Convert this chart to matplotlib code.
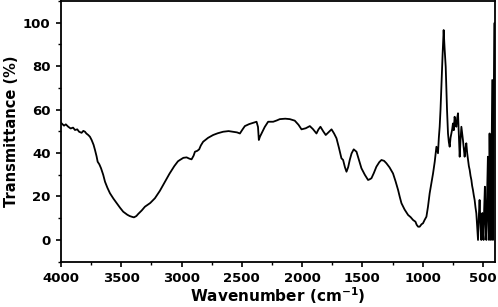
import matplotlib
matplotlib.use("Agg")
import matplotlib.pyplot as plt
from matplotlib.ticker import MultipleLocator

plt.rcParams['font.family'] = ['DejaVu Sans']
plt.rcParams['font.weight'] = 'bold'
plt.rcParams['mathtext.fontset'] = 'dejavusans'
plt.rcParams['mathtext.default'] = 'bf'

# FTIR spectrum
wavenumber = [
    4000, 3994, 3975, 3960, 3940, 3920, 3900, 3884, 3865, 3850, 3829, 3815, 3801, 3790,
    3774, 3760, 3746, 3730, 3718, 3705, 3696, 3682, 3668, 3650, 3635, 3615, 3594,
    3565, 3538, 3510, 3484, 3450, 3430, 3414, 3395, 3375, 3359, 3330, 3304, 3260,
    3221, 3180, 3138, 3100, 3060, 3030, 3014, 2985, 2958, 2935, 2917, 2900, 2889,
    2870, 2854, 2840, 2821, 2780, 2738, 2700, 2655, 2610, 2572, 2540, 2516, 2495,
    2475, 2440, 2406, 2378, 2366, 2359, 2350, 2337, 2310, 2282, 2240, 2210, 2185,
    2140, 2102, 2061, 2030, 2005, 1970, 1936, 1910, 1881, 1865, 1848, 1825, 1804,
    1780, 1756, 1735, 1715, 1695, 1674, 1660, 1645, 1632, 1618, 1605, 1590, 1572,
    1549, 1530, 1508, 1480, 1453, 1440, 1425, 1405, 1384, 1360, 1342, 1320, 1301,
    1275, 1246, 1225, 1204, 1190, 1176, 1150, 1121, 1100, 1080, 1060, 1050, 1038,
    1025, 1010, 997, 984, 969, 956, 942, 925, 914, 900, 886, 873, 866, 859, 852,
    845, 835, 826, 818, 809, 798, 790, 783, 776, 769, 762, 755, 749, 742, 735,
    728, 721, 714, 707, 700, 693, 686, 679, 672, 666, 659, 652, 645, 638, 631,
    624, 617, 610, 603, 596, 590, 583, 576, 569, 562, 555, 548, 541, 535, 528,
    521, 514, 510, 505, 500, 495, 490, 484, 478, 472, 466, 459, 455, 450, 447,
    445, 440, 434, 428, 423, 420, 417, 412, 406, 402, 400,
]
transmittance = [
    54.0, 53.6, 52.6, 53.2, 52.1, 51.3, 51.7, 50.6, 50.9, 49.8, 49.3, 50.2, 49.8, 49.0,
    48.3, 47.5, 46.0, 43.8, 41.4, 38.5, 36.0, 34.8, 33.0, 30.0, 26.8, 24.0, 21.5,
    19.0, 16.9, 14.8, 13.0, 11.6, 11.0, 10.7, 10.4, 11.0, 12.0, 13.6, 15.3, 17.0,
    19.2, 22.6, 26.8, 30.5, 34.0, 36.2, 36.8, 37.8, 38.0, 37.4, 37.1, 38.8, 40.6,
    41.0, 41.7, 43.5, 45.2, 47.0, 48.3, 49.1, 49.8, 50.1, 49.8, 49.5, 49.0, 50.8,
    52.4, 53.3, 53.9, 54.4, 52.0, 46.0, 47.5, 49.0, 52.0, 54.4, 54.4, 55.0, 55.6,
    55.8, 55.6, 54.9, 53.0, 50.9, 51.4, 52.4, 51.0, 49.0, 50.8, 52.1, 50.0, 48.3,
    49.6, 50.9, 49.0, 46.8, 42.5, 37.6, 36.8, 33.5, 31.4, 33.5, 36.8, 39.8, 41.7,
    40.6, 37.0, 33.0, 30.0, 27.6, 27.9, 28.4, 30.8, 33.7, 35.8, 36.8, 36.4, 35.3,
    33.4, 30.6, 27.0, 23.0, 19.8, 16.9, 14.0, 11.5, 10.5, 9.2, 8.4, 7.0, 6.1,
    6.1, 7.2, 7.7, 9.2, 10.7, 15.3, 21.5, 27.0, 30.6, 36.0, 42.9, 39.9, 47.0, 52.1, 60.0,
    70.5, 85.0, 96.6, 88.0, 79.7, 59.8, 49.0, 45.0, 42.9, 47.0, 49.0, 51.0, 53.6, 50.5, 56.7,
    54.0, 52.1, 56.0, 58.3, 48.0, 38.3, 46.0, 52.1, 49.0, 46.0, 42.0, 38.3, 42.0, 44.5, 40.0,
    36.8, 34.0, 32.2, 29.5, 27.6, 25.0, 23.0, 20.5, 18.4, 15.0, 12.3, 6.0, 0.0, 10.0, 18.4,
    8.0, 0.0, 6.0, 12.4, 3.0, 0.0, 14.0, 24.5, 8.0, 0.0, 20.0, 38.3, 10.0, 0.0, 30.0,
    49.0, 20.0, 0.0, 40.0, 73.6, 35.0, 0.0, 50.0, 99.6, 100.0, 100.0,
]

x_ticks = [4000, 3500, 3000, 2500, 2000, 1500, 1000, 500]
y_ticks = [0, 20, 40, 60, 80, 100]

fig = plt.figure(figsize=(4.98, 3.07), dpi=100)
ax = fig.add_axes([0.1225, 0.1476, 0.994 - 0.1225, 0.997 - 0.1476])
ax.plot(wavenumber, transmittance, color='black', linewidth=1.3)

ax.set_xlim(4000, 400)
ax.set_ylim(-10, 110)
ax.set_xticks(x_ticks)
ax.set_yticks(y_ticks)
ax.xaxis.set_minor_locator(MultipleLocator(250))
ax.yaxis.set_minor_locator(MultipleLocator(10))
ax.tick_params(which='major', direction='out', length=3.5, width=1.2, labelsize=9.5, pad=4)
ax.tick_params(which='minor', direction='out', length=2, width=1.0)
for lab in ax.get_xticklabels() + ax.get_yticklabels():
    lab.set_fontweight('bold')
for s in ax.spines.values():
    s.set_linewidth(1.3)

ax.set_xlabel(r'Wavenumber (cm$^{\mathbf{-1}}$)', fontsize=11, fontweight='bold', labelpad=0)
ax.set_ylabel('Transmittance (%)', fontsize=10.5, fontweight='bold', labelpad=3)

fig.savefig('out.png', dpi=100)
